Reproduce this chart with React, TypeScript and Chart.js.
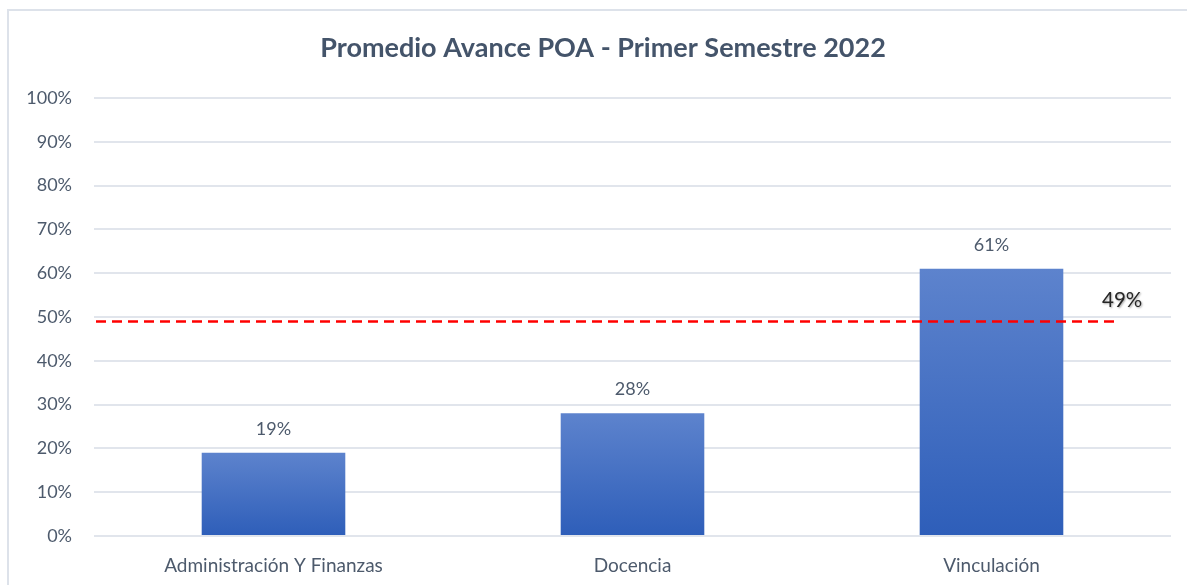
import React, { useEffect, useRef } from "react";
import { Chart, registerables } from "chart.js";

Chart.register(...registerables);

const TITLE = "Promedio Avance POA - Primer Semestre 2022";
const categories = ["Administración Y Finanzas", "Docencia", "Vinculación"];
const values = [19, 28, 61];
const averageValue = 49;
const averageLabel = "49%";
const yMin = 0;
const yMax = 100;
const yStep = 10;

const FONT = "Lato, 'Open Sans', sans-serif";
const TEXT = "#4d5a6c";
const TITLE_COLOR = "#44546a";

export default function App() {
  const ref = useRef<HTMLCanvasElement | null>(null);

  useEffect(() => {
    if (!ref.current) return;

    const overlay = {
      id: "overlay",
      afterDatasetsDraw(chart: any) {
        const { ctx, scales, chartArea } = chart;
        const y = scales.y;
        const x = scales.x;
        ctx.save();
        ctx.fillStyle = TITLE_COLOR;
        ctx.font = `bold 27px ${FONT}`;
        ctx.textAlign = "center";
        ctx.textBaseline = "middle";
        ctx.fillText(TITLE, 603, 48);
        const meta = chart.getDatasetMeta(0);
        ctx.font = `18px ${FONT}`;
        ctx.fillStyle = TEXT;
        meta.data.forEach((bar: any, i: number) => {
          ctx.fillText(`${values[i]}%`, bar.x, bar.y - 24);
        });
        const ay = y.getPixelForValue(averageValue);
        const xEnd = x.getPixelForValue(categories.length - 1 + 0.35);
        ctx.strokeStyle = "#ff0000";
        ctx.lineWidth = 2.5;
        ctx.setLineDash([10, 6]);
        ctx.beginPath();
        ctx.moveTo(chartArea.left + 2, ay);
        ctx.lineTo(xEnd, ay);
        ctx.stroke();
        ctx.setLineDash([]);
        ctx.font = `20.5px ${FONT}`;
        ctx.fillStyle = "#262626";
        ctx.shadowColor = "rgba(0,0,0,0.35)";
        ctx.shadowBlur = 2;
        ctx.shadowOffsetX = 1;
        ctx.shadowOffsetY = 1;
        ctx.fillText(averageLabel, xEnd + 5, ay - 21);
        ctx.restore();
      },
    };

    const chart = new Chart(ref.current, {
      type: "bar",
      data: {
        labels: categories,
        datasets: [
          {
            data: values,
            barPercentage: 0.8,
            categoryPercentage: 0.5,
            backgroundColor: (c: any) => {
              const ch = c.chart;
              if (!ch.chartArea || !ch.scales.y || c.parsed == null) return "#4472c4";
              const yS = ch.scales.y;
              const top = yS.getPixelForValue(c.parsed.y);
              const bottom = yS.getPixelForValue(0);
              if (!isFinite(top) || !isFinite(bottom) || top === bottom) return "#4472c4";
              const g = ch.ctx.createLinearGradient(0, top, 0, bottom);
              g.addColorStop(0, "#5d83cd");
              g.addColorStop(1, "#2e5eb9");
              return g;
            },
            borderWidth: 0,
          },
        ],
      },
      options: {
        animation: false,
        responsive: false,
        maintainAspectRatio: false,
        layout: { padding: { left: 0, right: 16, top: 98, bottom: 0 } },
        plugins: {
          legend: { display: false },
          tooltip: { enabled: false },
          title: { display: false },
        },
        scales: {
          x: {
            grid: { display: false },
            border: { display: false },
            ticks: {
              color: TEXT,
              font: { family: FONT, size: 19 },
              padding: 10,
            },
            afterFit: (s: any) => {
              s.height = 49;
            },
          },
          y: {
            min: yMin,
            max: yMax,
            border: { display: false },
            grid: { color: "#e1e5ec", lineWidth: 2, drawTicks: false },
            ticks: {
              stepSize: yStep,
              color: TEXT,
              font: { family: FONT, size: 18 },
              padding: 22,
              callback: (v: any) => `${v}%`,
            },
            afterFit: (s: any) => {
              s.width = 94;
            },
          },
        },
      },
      plugins: [overlay],
    });
    return () => chart.destroy();
  }, []);

  return (
    <div style={{ position: "fixed", left: 0, top: 0, width: 1187, height: 585, background: "#fff", overflow: "hidden" }}>
      <div
        style={{
          position: "absolute",
          left: 7,
          top: 9,
          width: 1400,
          height: 800,
          borderLeft: "2px solid #dde2ea",
          borderTop: "2px solid #dde2ea",
        }}
      />
      <canvas ref={ref} width={1187} height={585} style={{ position: "absolute", left: 0, top: 0 }} />
    </div>
  );
}
